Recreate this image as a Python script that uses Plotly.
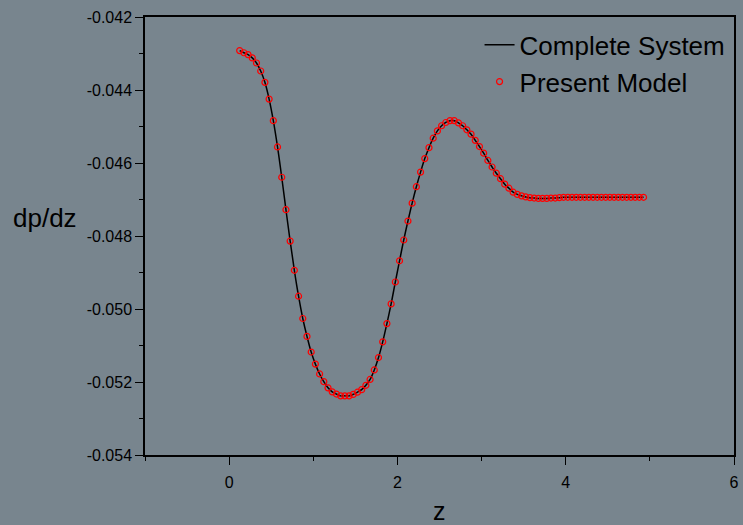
import plotly.graph_objects as go

z_values = [0.125, 0.175, 0.225, 0.275, 0.325, 0.375, 0.425, 0.475, 0.525, 0.575,
            0.625, 0.675, 0.725, 0.775, 0.825, 0.875, 0.925, 0.975, 1.025, 1.075,
            1.125, 1.175, 1.225, 1.275, 1.325, 1.375, 1.425, 1.475, 1.525, 1.575,
            1.625, 1.675, 1.725, 1.775, 1.825, 1.875, 1.925, 1.975, 2.025, 2.075,
            2.125, 2.175, 2.225, 2.275, 2.325, 2.375, 2.425, 2.475, 2.525, 2.575,
            2.625, 2.675, 2.725, 2.775, 2.825, 2.875, 2.925, 2.975, 3.025, 3.075,
            3.125, 3.175, 3.225, 3.275, 3.325, 3.375, 3.425, 3.475, 3.525, 3.575,
            3.625, 3.675, 3.725, 3.775, 3.825, 3.875, 3.925, 3.975, 4.025, 4.075,
            4.125, 4.175, 4.225, 4.275, 4.325, 4.375, 4.425, 4.475, 4.525, 4.575,
            4.625, 4.675, 4.725, 4.775, 4.825, 4.875, 4.925]

complete_system = [-0.04292, -0.04298, -0.04303, -0.04312, -0.04326, -0.04348, -0.04379, -0.04425, -0.04484, -0.04556,
                   -0.04639, -0.04728, -0.04814, -0.04894, -0.04965, -0.05026, -0.05075, -0.05118, -0.05151, -0.05178,
                   -0.05199, -0.05216, -0.05227, -0.05233, -0.05238, -0.05238, -0.05238, -0.05234, -0.05228, -0.05221,
                   -0.05209, -0.05193, -0.05167, -0.05133, -0.05090, -0.05040, -0.04986, -0.04926, -0.04868, -0.04811,
                   -0.04759, -0.04710, -0.04665, -0.04625, -0.04588, -0.04558, -0.04532, -0.04512, -0.04498, -0.04489,
                   -0.04484, -0.04484, -0.04490, -0.04498, -0.04509, -0.04521, -0.04538, -0.04555, -0.04573, -0.04593,
                   -0.04611, -0.04628, -0.04643, -0.04658, -0.04669, -0.04680, -0.04686, -0.04690, -0.04693, -0.04695,
                   -0.04696, -0.04697, -0.04697, -0.04697, -0.04696, -0.04696, -0.04695,
                   -0.04694, -0.04694, -0.04694, -0.04694, -0.04694, -0.04694, -0.04694, -0.04694, -0.04694, -0.04694,
                   -0.04694, -0.04694, -0.04694, -0.04694, -0.04694, -0.04694, -0.04694, -0.04694, -0.04694, -0.04694]

present_model = list(complete_system)

x_tick_vals = [0, 2, 4, 6]
x_tick_text = ["0", "2", "4", "6"]
y_tick_vals = [-0.054, -0.052, -0.050, -0.048, -0.046, -0.044, -0.042]
y_tick_text = ["-0.054", "-0.052", "-0.050", "-0.048", "-0.046", "-0.044", "-0.042"]

BG = "#78858E"
FONT = "Liberation Sans, Arial, sans-serif"

fig = go.Figure()
fig.add_trace(go.Scatter(
    x=z_values, y=complete_system, mode="lines", name="Complete System",
    line=dict(color="black", width=1.5, shape="spline"),
))
fig.add_trace(go.Scatter(
    x=z_values, y=present_model, mode="markers", name="Present Model",
    marker=dict(symbol="circle-open", size=6, color="red", line=dict(width=1.2, color="red")),
))

fig.update_layout(
    width=743, height=525,
    margin=dict(l=145, r=4, t=17, b=70),
    paper_bgcolor=BG, plot_bgcolor=BG,
    font=dict(family=FONT, color="black"),
    showlegend=True,
    legend=dict(x=0.568, y=0.99, xanchor="left", yanchor="top",
                bgcolor="rgba(0,0,0,0)", font=dict(size=26, family=FONT),
                tracegroupgap=0, itemwidth=30),
    xaxis=dict(range=[-1, 6], tickvals=x_tick_vals, ticktext=x_tick_text,
               showgrid=False, zeroline=False, showline=True, linecolor="black", linewidth=1.5,
               mirror=True, ticks="outside", ticklen=8, tickwidth=1.2, tickcolor="black",
               tickfont=dict(size=16, family=FONT), ticklabelstandoff=4,
               minor=dict(ticks="outside", ticklen=4, dtick=1, tick0=1, tickcolor="black", showgrid=False)),
    yaxis=dict(range=[-0.054, -0.042], tickvals=y_tick_vals, ticktext=y_tick_text,
               showgrid=False, zeroline=False, showline=True, linecolor="black", linewidth=1.5,
               mirror=True, ticks="outside", ticklen=8, tickwidth=1.2, tickcolor="black",
               tickfont=dict(size=16, family=FONT),
               minor=dict(ticks="outside", ticklen=4, dtick=0.001, tick0=-0.043, tickcolor="black", showgrid=False)),
    annotations=[
        dict(text="dp/dz", xref="paper", yref="paper", x=-0.17, y=0.541,
             xanchor="center", yanchor="middle", showarrow=False,
             font=dict(size=26, family=FONT, color="black")),
        dict(text="z", xref="paper", yref="paper", x=0.5, y=-0.128,
             xanchor="center", yanchor="middle", showarrow=False,
             font=dict(size=25, family=FONT, color="black")),
    ],
)

fig.write_html("out.html")
